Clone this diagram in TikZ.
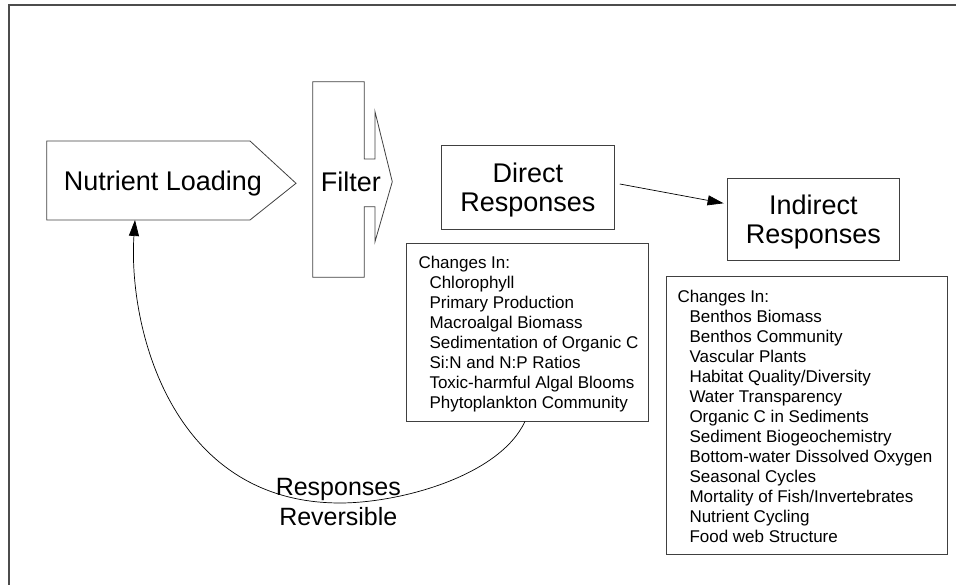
\documentclass[tikz,border=0pt]{standalone}
\usepackage{fontspec}
\setmainfont{Liberation Sans}
\usetikzlibrary{arrows.meta,calc}
\begin{document}
\begin{tikzpicture}[x=1pt,y=1pt,
  shp/.style={draw=black!75, line width=0.8pt, line join=miter},
  bigtxt/.style={font=\fontsize{27}{29}\selectfont, inner sep=0pt, align=center},
  boxn/.style={draw=black!75, line width=0.8pt, inner sep=0pt, rectangle, font=\fontsize{27}{29}\selectfont, align=center},
  listbox/.style={draw=black!75, line width=0.8pt, inner sep=0pt, rectangle},
  listtxt/.style={font=\fontsize{17}{20}\selectfont, inner sep=0pt, align=left, anchor=north west},
  lbl/.style={font=\fontsize{25}{30}\selectfont, inner sep=0pt, align=center},
  arr/.style={draw=black, line width=0.7pt, -{Triangle[length=16pt,width=10pt]}}]
\useasboundingbox (0,0) rectangle (956,585);
% frame
\draw[black!70, line width=1.6pt] (9,0) -- (9,580) -- (956,580);
% nutrient loading
\draw[shp] (46.7,444) -- (250,444) -- (296,401.7) -- (250,365) -- (46.7,365) -- cycle;
\node[bigtxt, anchor=base] (nut) at (163,394.1) {Nutrient Loading};
\coordinate (nutb) at (135,365);
% filter
\draw[shp] (312.7,503.3) -- (364.3,503.3) -- (364.3,426) -- (375,426) -- (375,473.3)
  -- (392.3,403.3) -- (375,343.3) -- (375,378.3) -- (364.3,378.3) -- (364.3,307.7)
  -- (312.7,307.7) -- cycle;
\node[bigtxt, anchor=base] (filt) at (350.8,393.1) {Filter};
% direct / indirect
\node[boxn, minimum width=172.3, minimum height=84] (direct) at (527.9,398)
  {Direct\\\smash{Responses}};
\node[boxn, minimum width=172, minimum height=82.4] (indirect) at (813.3,365.5)
  {Indirect\\\smash{Responses}};
\coordinate (a1) at ($(direct.east)+(5.3,3)$);
\coordinate (a2) at ($(indirect.west)+(-3.3,16.2)$);
\draw[arr] (a1) -- (a2);
% lists
\node[listbox, minimum width=242.3, minimum height=177.7] (dlist) at (527.15,252.85) {};
\node[listtxt] (dlisttxt) at (418.3,329) {Changes In:\\
\hspace*{11pt}Chlorophyll\\
\hspace*{11pt}Primary Production\\
\hspace*{11pt}Macroalgal Biomass\\
\hspace*{11pt}Sedimentation of Organic C\\
\hspace*{11pt}Si:N and N:P Ratios\\
\hspace*{11pt}Toxic-harmful Algal Blooms\\
\hspace*{11pt}Phytoplankton Community};
\node[listbox, minimum width=281.7, minimum height=278.3] (ilist) at (806.85,169.85) {};
\node[listtxt] (ilisttxt) at (677.3,295) {Changes In:\\
\hspace*{12pt}Benthos Biomass\\
\hspace*{12pt}Benthos Community\\
\hspace*{12pt}Vascular Plants\\
\hspace*{12pt}Habitat Quality/Diversity\\
\hspace*{12pt}Water Transparency\\
\hspace*{12pt}Organic C in Sediments\\
\hspace*{12pt}Sediment Biogeochemistry\\
\hspace*{12pt}Bottom-water Dissolved Oxygen\\
\hspace*{12pt}Seasonal Cycles\\
\hspace*{12pt}Mortality of Fish/Invertebrates\\
\hspace*{12pt}Nutrient Cycling\\
\hspace*{12pt}Food web Structure};
% feedback
\coordinate (fbs) at (dlist.south -| 525,0);
\draw[arr] (fbs) .. controls (499.6,108.9) and (400,82) .. (340,82)
  .. controls (170,82) and (128,260) .. (nutb);
\node[lbl] (rev) at (338.3,83.3) {Responses\\Reversible};
\end{tikzpicture}
\end{document}
